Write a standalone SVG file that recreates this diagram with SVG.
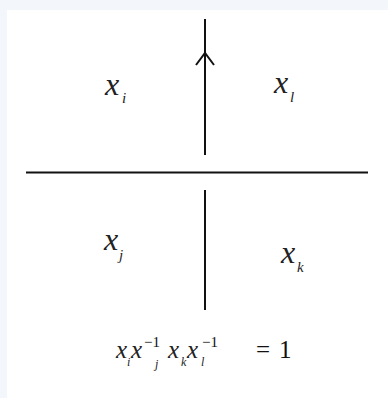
<svg xmlns="http://www.w3.org/2000/svg" width="388" height="398" viewBox="0 0 388 398">
<style>
.ln{stroke:#111;stroke-width:2;fill:none}
.v{font-family:'Liberation Serif','Times New Roman',serif;font-style:italic;fill:#222}
.n{font-family:'Liberation Serif','Times New Roman',serif;fill:#111}
</style>
<rect width="388" height="398" fill="#f3f7fb"/>
<rect x="7" y="10" width="381" height="388" fill="#ffffff"/>
<g id="connectors">
<line class="ln" x1="26" y1="172.5" x2="368" y2="172.5"/>
<line class="ln" x1="205" y1="19" x2="205" y2="155"/>
<line class="ln" x1="205" y1="190" x2="205" y2="310"/>
<polyline class="ln" stroke-width="1.6" points="196,65 205,53 214,65"/>
</g>
<g id="xi"><text class="v" x="105" y="95" font-size="32">x</text><text class="v" x="122" y="103" font-size="15">i</text></g>
<g id="xl"><text class="v" x="274" y="93" font-size="32">x</text><text class="v" x="290" y="102" font-size="15">l</text></g>
<g id="xj"><text class="v" x="104" y="250" font-size="32">x</text><text class="v" x="119" y="260" font-size="15">j</text></g>
<g id="xk"><text class="v" x="281" y="263" font-size="32">x</text><text class="v" x="297" y="272" font-size="15">k</text></g>
<g id="formula">
<text class="v" x="116" y="358" font-size="25">x</text><text class="v" x="127" y="366" font-size="12">i</text>
<text class="v" x="131" y="358" font-size="25">x</text><text class="v" x="155" y="368" font-size="12">j</text><text class="n" x="144" y="347" font-size="15">−1</text>
<text class="v" x="168" y="358" font-size="25">x</text><text class="v" x="181" y="366" font-size="12">k</text>
<text class="v" x="187" y="358" font-size="25">x</text><text class="v" x="201" y="366" font-size="12">l</text><text class="n" x="202" y="347" font-size="15">−1</text>
<text class="n" x="256" y="358" font-size="25">=</text><text class="n" x="279" y="358" font-size="25">1</text>
</g>
</svg>
